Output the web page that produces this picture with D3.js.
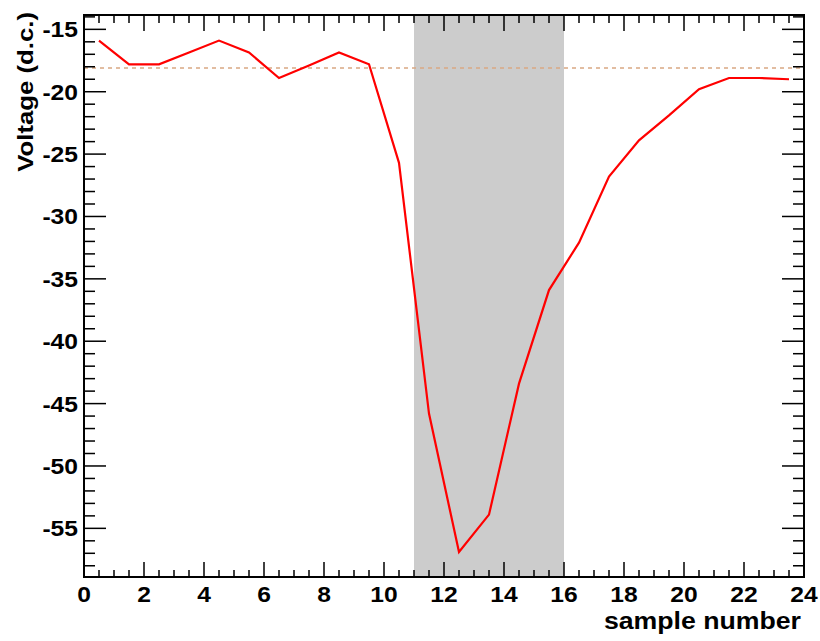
<!DOCTYPE html>
<html><head><meta charset="utf-8">
<script src="https://cdn.jsdelivr.net/npm/d3@7"></script>
<style>body{margin:0;background:#fff}svg{display:block}</style>
</head><body>
<script>
const samples = [0.5,1.5,2.5,3.5,4.5,5.5,6.5,7.5,8.5,9.5,10.5,11.5,12.5,13.5,14.5,15.5,16.5,17.5,18.5,19.5,20.5,21.5,22.5,23.5];
const voltage = [-15.9,-17.8,-17.8,-16.85,-15.9,-16.85,-18.9,-17.9,-16.85,-17.8,-25.7,-45.8,-56.9,-53.9,-43.4,-35.9,-32.1,-26.8,-23.9,-21.9,-19.8,-18.9,-18.9,-19.0];
const pedestal = -18.1;
const window_ = [11, 16];
const xTicks = [0,2,4,6,8,10,12,14,16,18,20,22,24];
const yTicks = [-15,-20,-25,-30,-35,-40,-45,-50,-55];

const W = 820, H = 641;
const m = {l:84, r:16, t:15, b:64};
const svg = d3.select("body").append("svg").attr("width",W).attr("height",H);
const x = d3.scaleLinear().domain([0,24]).range([m.l, W-m.r]);
const y = d3.scaleLinear().domain([-58.9,-13.85]).range([H-m.b, m.t]);
const x0 = m.l, x1 = W-m.r, y0 = H-m.b, y1 = m.t;

// shaded window
svg.append("rect").attr("x", x(window_[0])).attr("y", y1).attr("width", x(window_[1])-x(window_[0])).attr("height", y0-y1).attr("fill","#cccccc");

// pedestal dashed line
svg.append("line").attr("x1",x0).attr("x2",x1).attr("y1",y(pedestal)).attr("y2",y(pedestal))
  .attr("stroke","#d9a883").attr("stroke-width",1.5).attr("stroke-dasharray","4,4");

// data line
svg.append("path").datum(samples.map((s,i)=>[s,voltage[i]]))
  .attr("d", d3.line().x(d=>x(d[0])).y(d=>y(d[1])))
  .attr("fill","none").attr("stroke","#ff0000").attr("stroke-width",2.2);

// ticks
const tk = svg.append("g").attr("stroke","#000").attr("stroke-width",1.5);
const xMinor = d3.range(0,24.01,0.5);
xMinor.forEach(v=>{
  const major = Math.abs(v/2 - Math.round(v/2))<1e-6;
  const L = major?15:7;
  tk.append("line").attr("x1",x(v)).attr("x2",x(v)).attr("y1",y0).attr("y2",y0-L);
  tk.append("line").attr("x1",x(v)).attr("x2",x(v)).attr("y1",y1).attr("y2",y1+L+1);
});
const yMinor = d3.range(-58,-13.9,1);
yMinor.forEach(v=>{
  const major = v%5===0;
  const L = major?22:11;
  tk.append("line").attr("y1",y(v)).attr("y2",y(v)).attr("x1",x0).attr("x2",x0+L);
  tk.append("line").attr("y1",y(v)).attr("y2",y(v)).attr("x1",x1).attr("x2",x1-L);
});

// frame
svg.append("rect").attr("x",x0).attr("y",y1).attr("width",x1-x0).attr("height",y0-y1)
  .attr("fill","none").attr("stroke","#000").attr("stroke-width",2);

// labels
const font = "'Liberation Sans', Arial, Helvetica, sans-serif";
const sx = 1.12;
svg.append("g").selectAll("text").data(xTicks).join("text")
  .attr("transform",d=>`translate(${x(d)},${y0+25}) scale(${sx},1)`).attr("text-anchor","middle")
  .attr("font-family",font).attr("font-weight","bold").attr("font-size",22).text(d=>d);
svg.append("g").selectAll("text").data(yTicks).join("text")
  .attr("transform",d=>`translate(${x0-6},${y(d)}) scale(${sx},1)`).attr("dy","0.36em").attr("text-anchor","end")
  .attr("font-family",font).attr("font-weight","bold").attr("font-size",22).text(d=>d);

svg.append("text").attr("transform",`translate(${x1-3},${y0+52}) scale(1.16,1)`).attr("text-anchor","end")
  .attr("font-family",font).attr("font-weight","bold").attr("font-size",23).text("sample number");
svg.append("text").attr("transform",`translate(33,12) rotate(-90) scale(1.17,1)`).attr("text-anchor","end")
  .attr("font-family",font).attr("font-weight","bold").attr("font-size",22).text("Voltage (d.c.)");
</script>
</body></html>
